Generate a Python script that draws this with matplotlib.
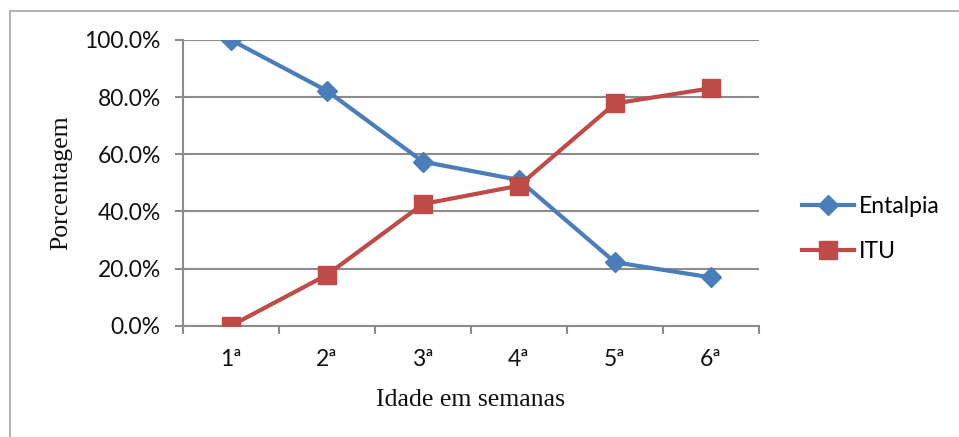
import matplotlib
matplotlib.use("Agg")
import matplotlib.pyplot as plt
from matplotlib.patches import Rectangle
from matplotlib.ticker import FuncFormatter

semanas = ["1ª", "2ª", "3ª", "4ª", "5ª", "6ª"]
entalpia = [100.0, 82.2, 57.4, 51.0, 22.2, 16.9]
itu = [0.0, 17.8, 42.6, 49.0, 77.8, 83.1]
y_ticks = [0, 20, 40, 60, 80, 100]

blue = "#4A7EBB"
red = "#BE4B48"
grid_gray = "#8C8C8C"
sans = ["Lato", "DejaVu Sans"]
serif = ["Liberation Serif", "DejaVu Serif"]

fig = plt.figure(figsize=(9.59, 4.37), dpi=100)
fig.patch.set_facecolor("white")

# outer chart frame
fig.patches.append(Rectangle((10 / 959, -0.05), 1.2, 1 - 11 / 437 + 0.05,
                             transform=fig.transFigure, fill=False,
                             edgecolor="#A6A6A6", linewidth=1.2))

ax = fig.add_axes([183 / 959, 111.3 / 437, 576 / 959, 285.7 / 437])
x = list(range(len(semanas)))

ax.plot(x, entalpia, color=blue, linewidth=3.0, marker="D", markersize=10,
        markerfacecolor=blue, markeredgecolor=blue, label="Entalpia", zorder=3)
ax.plot(x, itu, color=red, linewidth=3.0, marker="s", markersize=13,
        markerfacecolor=red, markeredgecolor=red, label="ITU", zorder=4)

ax.set_xlim(-0.5, len(semanas) - 0.5)
ax.set_ylim(0, 100)
ax.set_yticks(y_ticks)
ax.yaxis.set_major_formatter(FuncFormatter(lambda v, p: f"{v:.1f}%"))
ax.set_xticks(x)
ax.set_xticklabels(semanas)
ax.set_xticks([i - 0.5 for i in range(len(semanas) + 1)], minor=True)

ax.grid(axis="y", color=grid_gray, linewidth=1.5, zorder=0)
ax.set_axisbelow(True)
for s in ["top", "right"]:
    ax.spines[s].set_visible(False)
for s in ["left", "bottom"]:
    ax.spines[s].set_color(grid_gray)
    ax.spines[s].set_linewidth(1.5)

ax.tick_params(axis="y", which="major", length=6, width=1.5, color=grid_gray,
               pad=10, labelsize=16.5, labelcolor="#111111")
ax.tick_params(axis="x", which="major", length=0, pad=17, labelsize=16.5,
               labelcolor="#111111")
ax.tick_params(axis="x", which="minor", length=6, width=1.5, color=grid_gray)
for lab in ax.get_xticklabels() + ax.get_yticklabels():
    lab.set_family(sans)

ax.set_ylabel("Porcentagem", family=serif, fontsize=18.5, color="#111111")
ax.yaxis.set_label_coords(-0.193, 0.5)
ax.set_xlabel("Idade em semanas", family=serif, fontsize=18.5, color="#111111")
ax.xaxis.set_label_coords(0.5, -0.222)

leg = fig.legend(loc="center left", bbox_to_anchor=(781 / 959, 1 - 229 / 437),
                 frameon=False, prop={"family": sans, "size": 16.5},
                 handlelength=2.3, handletextpad=0.2, labelspacing=1.05)

fig.savefig("out.png", dpi=100)
